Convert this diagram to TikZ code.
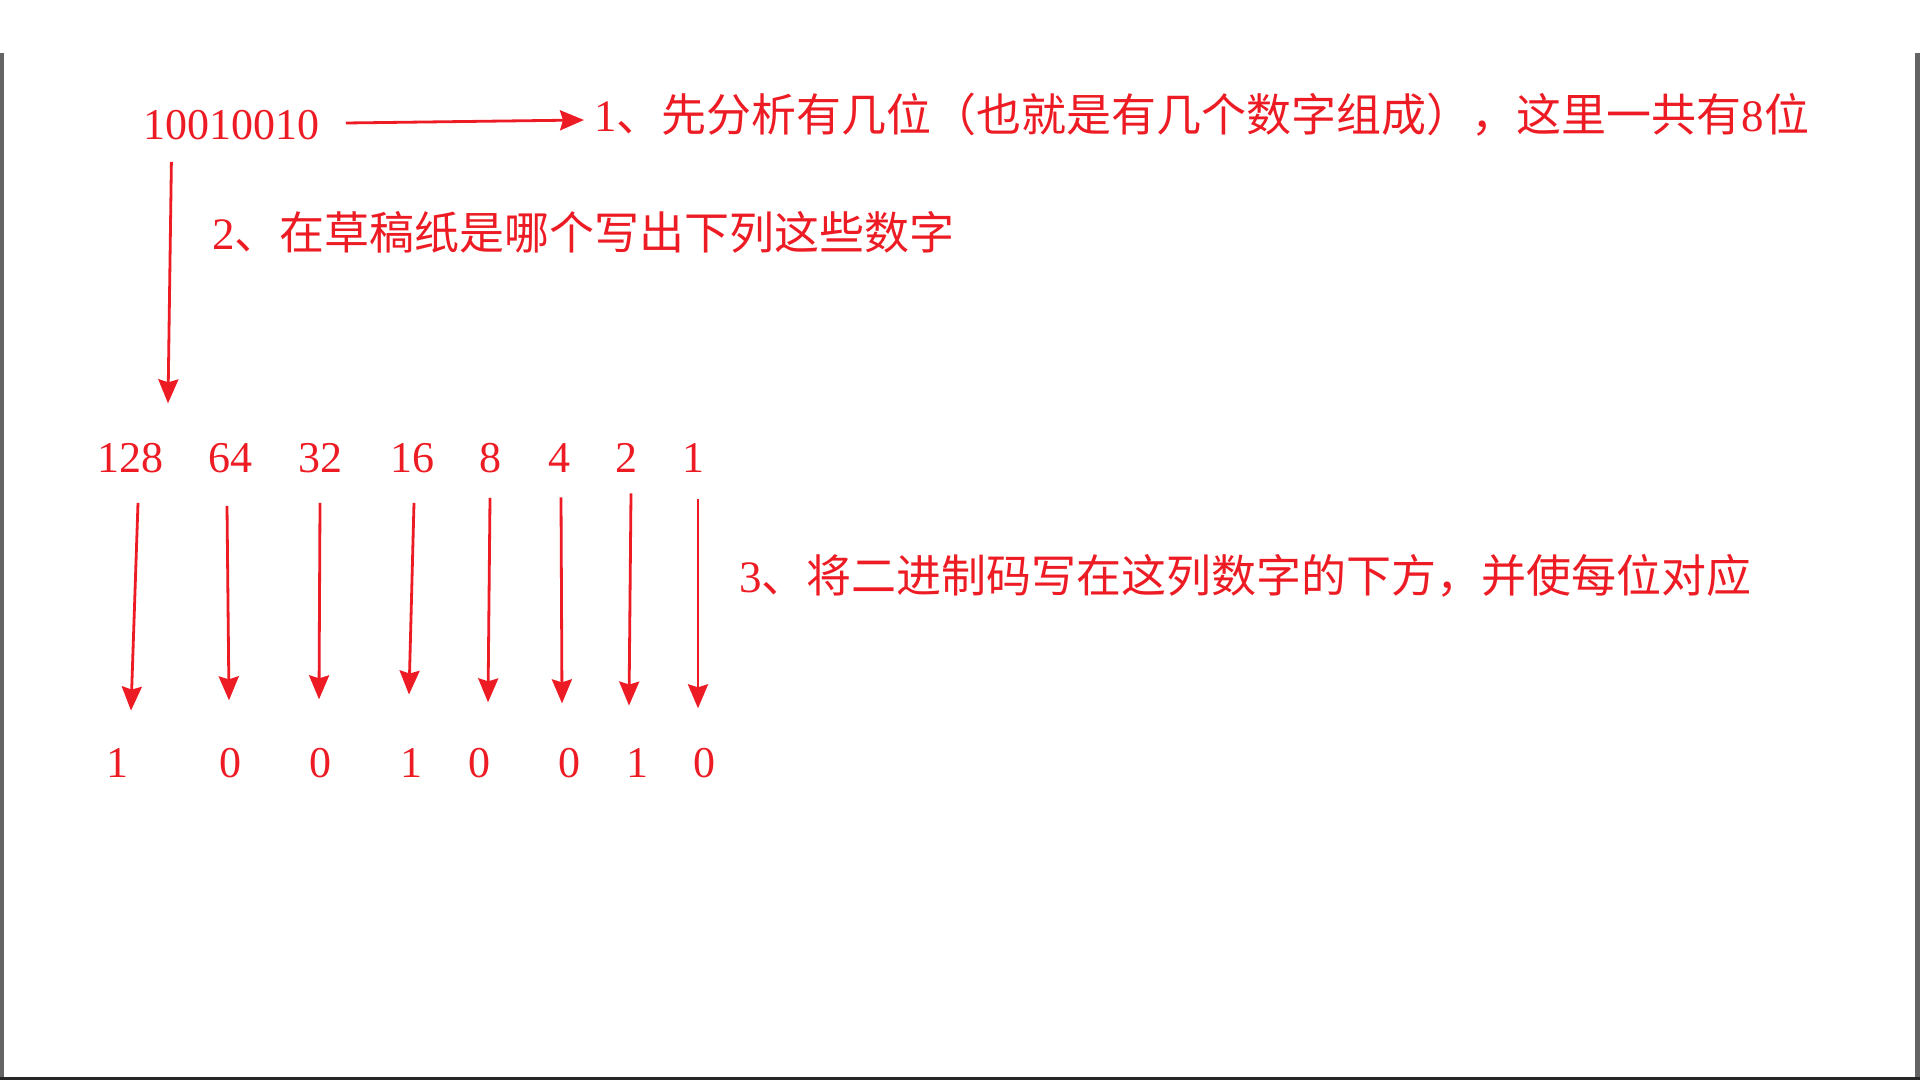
\documentclass[tikz,border=0pt]{standalone}
\usepackage{fontspec}
\setmainfont{Liberation Serif}
\newfontfamily\cjk{Noto Sans CJK SC}
\usetikzlibrary{arrows.meta}
\definecolor{rd}{RGB}{237,28,36}
\definecolor{edge}{RGB}{100,100,100}
\begin{document}
\begin{tikzpicture}[x=0.5pt,y=-0.5pt,
  lbl/.style={text=rd,inner sep=0pt,anchor=base west,font=\fontsize{22.5pt}{27pt}\selectfont},
  num/.style={text=rd,inner sep=0pt,anchor=base,font=\fontsize{22pt}{26pt}\selectfont},
  arr/.style={draw=rd,line width=1.4pt,-{Stealth[length=12pt,width=10pt,inset=1.5pt]}}]
\fill[white] (0,0) rectangle (1920,1080);
\useasboundingbox (0,0) rectangle (1920,1080);
\fill[edge] (0,53) rectangle (4,1080);
\fill[edge] (1915,53) rectangle (1920,1080);
\fill[black!85] (0,1077) rectangle (1920,1080);

% binary number and step texts
\node[num,anchor=base west] (bin) at (143,140) {10010010};
\node[lbl] (t1) at (594,132) {1{\cjk 、先分析有几位（也就是有几个数字组成），这里一共有}8{\cjk 位}};
\node[lbl] (t2) at (212,250) {2{\cjk 、在草稿纸是哪个写出下列这些数字}};
\node[lbl] (t3) at (739,592) {3{\cjk 、将二进制码写在这列数字的下方，并使每位对应}};

% place values
\node[num] (w1) at (130,472) {128};
\node[num] (w2) at (230,472) {64};
\node[num] (w3) at (320,472) {32};
\node[num] (w4) at (412,472) {16};
\node[num] (w5) at (490,472) {8};
\node[num] (w6) at (559,472) {4};
\node[num] (w7) at (626,472) {2};
\node[num] (w8) at (693,472) {1};

% bits
\node[num] (b1) at (117,777) {1};
\node[num] (b2) at (230,777) {0};
\node[num] (b3) at (320,777) {0};
\node[num] (b4) at (411,777) {1};
\node[num] (b5) at (479,777) {0};
\node[num] (b6) at (569,777) {0};
\node[num] (b7) at (637,777) {1};
\node[num] (b8) at (704,777) {0};

% connectors
\draw[arr] ([shift={(26,-17)}]bin.base east) -- ([shift={(-10,-12)}]t1.base west);
\draw[arr] ([shift={(-60,21)}]bin.south) -- ([shift={(38,-39)}]w1.north);

\draw[arr] ([shift={(8,30)}]w1.south) -- ([shift={(14,-37)}]b1.north);
\draw[arr] ([shift={(-3,33)}]w2.south) -- ([shift={(-1,-47)}]b2.north);
\draw[arr] ([shift={(0,30)}]w3.south) -- ([shift={(-1,-48)}]b3.north);
\draw[arr] ([shift={(2,30)}]w4.south) -- ([shift={(-2,-53)}]b4.north);
\draw[arr] ([shift={(0,25)}]w5.south) -- ([shift={(9,-45)}]b5.north);
\draw[arr] ([shift={(2,25)}]w6.south) -- ([shift={(-7,-44)}]b6.north);
\draw[arr] ([shift={(5,21)}]w7.south) -- ([shift={(-8,-42)}]b7.north);
\draw[arr] ([shift={(5,27)}]w8.south) -- ([shift={(-6,-39)}]b8.north);
\end{tikzpicture}
\end{document}
